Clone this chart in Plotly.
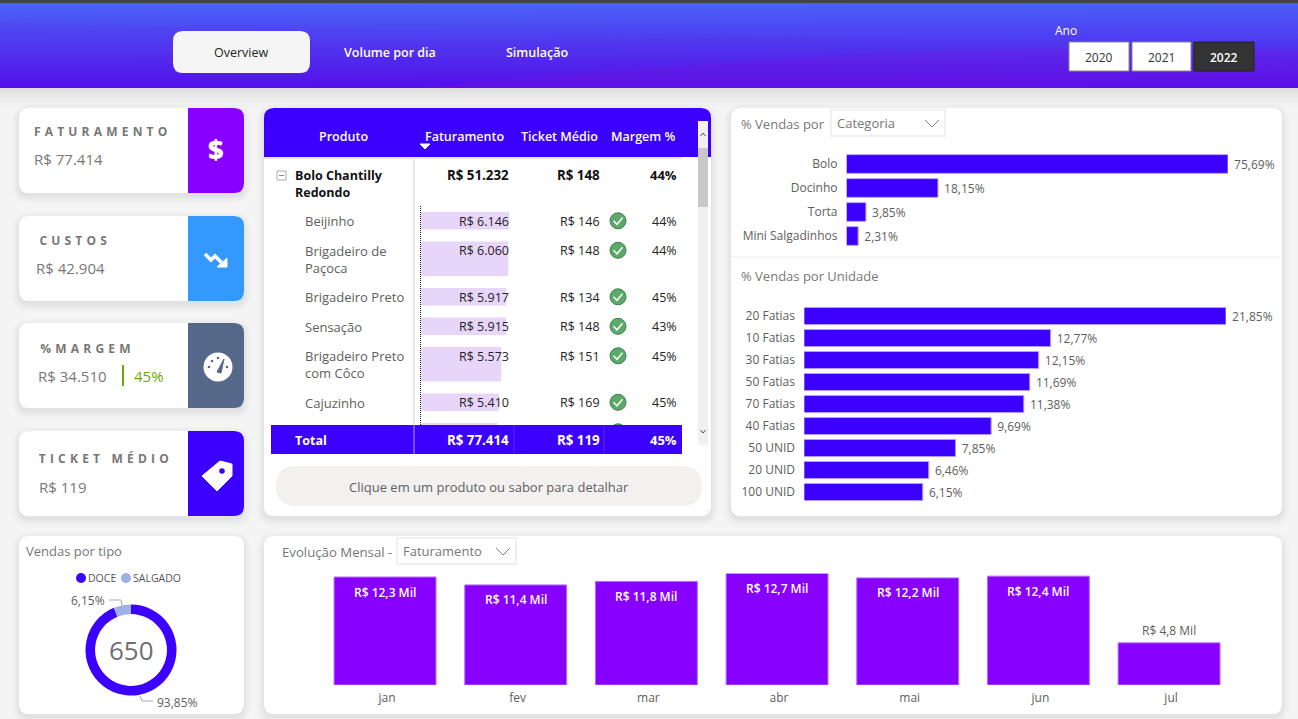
import base64
import plotly.graph_objects as go

W, H = 1298, 719
FONT = "Open Sans"
GREY = "#666666"
BLUE = "#3B00FF"
PURPLE = "#8800FF"

categorias = ["Bolo", "Docinho", "Torta", "Mini Salgadinhos"]
categorias_pct = [75.69, 18.15, 3.85, 2.31]

unidades = ["20 Fatias", "10 Fatias", "30 Fatias", "50 Fatias", "70 Fatias", "40 Fatias", "50 UNID", "20 UNID", "100 UNID"]
unidades_pct = [21.85, 12.77, 12.15, 11.69, 11.38, 9.69, 7.85, 6.46, 6.15]

meses = ["jan", "fev", "mar", "abr", "mai", "jun", "jul"]
meses_fat = [12.3, 11.4, 11.8, 12.7, 12.2, 12.4, 4.8]
meses_txt = ["R$ 12,3 Mil", "R$ 11,4 Mil", "R$ 11,8 Mil", "R$ 12,7 Mil", "R$ 12,2 Mil", "R$ 12,4 Mil", "R$ 4,8 Mil"]

tipos = ["DOCE", "SALGADO"]
tipos_pct = [93.85, 6.15]

sabores = [["Beijinho"], ["Brigadeiro de", "Paçoca"], ["Brigadeiro Preto"], ["Sensação"],
           ["Brigadeiro Preto", "com Côco"], ["Cajuzinho"]]
sabores_fat = [6146, 6060, 5917, 5915, 5573, 5410]
sabores_ticket = [146, 148, 134, 148, 151, 169]
sabores_margem = [44, 44, 45, 43, 45, 45]
proximo_fat = 5310  # row hidden behind the total, only the bar top shows

kpis = [("FATURAMENTO", "R$ 77.414"), ("CUSTOS", "R$ 42.904"), ("%MARGEM", "R$ 34.510"), ("TICKET MÉDIO", "R$ 119")]


def dom_x(a, b):
    return [a / W, b / W]


def dom_y(top, bottom):
    return [1 - bottom / H, 1 - top / H]


shapes = []
notes = []


def rounded(x0, y0, x1, y1, r, fill, corners="tl tr br bl", line=None, layer="below", opacity=1):
    tl, tr, br, bl = [(r if c in corners.split() else 0) for c in ["tl", "tr", "br", "bl"]]
    path = (f"M{x0 + tl},{y0} L{x1 - tr},{y0} Q{x1},{y0} {x1},{y0 + tr} L{x1},{y1 - br} Q{x1},{y1} {x1 - br},{y1} "
            f"L{x0 + bl},{y1} Q{x0},{y1} {x0},{y1 - bl} L{x0},{y0 + tl} Q{x0},{y0} {x0 + tl},{y0} Z")
    shapes.append(dict(type="path", path=path, xref="x", yref="y", fillcolor=fill, opacity=opacity, layer=layer,
                       line=dict(width=1 if line else 0, color=line or fill)))


def rect(x0, y0, x1, y1, fill, line=None, layer="below", width=1):
    shapes.append(dict(type="rect", x0=x0, y0=y0, x1=x1, y1=y1, xref="x", yref="y", fillcolor=fill, layer=layer,
                       line=dict(width=width if line else 0, color=line or fill)))


def polyline(points, color, width=1, layer="below", fill=None):
    path = "M" + " L".join(f"{x},{y}" for x, y in points) + (" Z" if fill else "")
    shapes.append(dict(type="path", path=path, xref="x", yref="y", layer=layer, fillcolor=fill or "rgba(0,0,0,0)",
                       line=dict(width=width, color=color)))


def circle(cx, cy, r, fill, line=None, layer="below", width=1):
    shapes.append(dict(type="circle", x0=cx - r, y0=cy - r, x1=cx + r, y1=cy + r, xref="x", yref="y", fillcolor=fill,
                       layer=layer, line=dict(width=width if line else 0, color=line or fill)))


def label(x, y, text, size=12, color=GREY, anchor="left", weight=400):
    notes.append(dict(x=x, y=y, xref="x", yref="y", text=text, showarrow=False, xanchor=anchor, yanchor="middle",
                      font=dict(family=FONT, size=size, color=color, weight=weight), borderpad=0, borderwidth=0))


def card(x0, y0, x1, y1, r=10):
    for grow, op in [(7, 0.012), (5, 0.016), (3, 0.02), (1, 0.025)]:
        rounded(x0 - grow, y0 - grow + 3, x1 + grow, y1 + grow + 3, r + grow, "#000000", opacity=op)
    rounded(x0, y0, x1, y1, r, "#FFFFFF")


def dropdown(x0, y0, x1, y1, text):
    rect(x0, y0, x1, y1, "#FFFFFF", line="#F0F0F0", width=2)
    label(x0 + 6, (y0 + y1) / 2, text, 13, "#777777")
    polyline([(x1 - 20, y0 + 10), (x1 - 13, y0 + 17), (x1 - 6, y0 + 10)], "#888888")


# Banner
banner_svg = """<svg xmlns='http://www.w3.org/2000/svg' width='1298' height='88' preserveAspectRatio='none'>
<defs><linearGradient id='g' x1='0' y1='0' x2='0.05' y2='1'>
<stop offset='0' stop-color='#4A66F8'/><stop offset='1' stop-color='#5210EA'/></linearGradient></defs>
<rect width='1298' height='88' fill='url(#g)'/>
<path d='M0,22 C300,34 800,28 1298,50 L1298,88 L0,88 Z' fill='#7A18D8' fill-opacity='0.06'/>
<path d='M420,88 C700,60 1000,40 1298,50 L1298,88 Z' fill='#8010D8' fill-opacity='0.22'/>
</svg>"""
banner_src = "data:image/svg+xml;base64," + base64.b64encode(banner_svg.encode()).decode()
for grow, op in [(18, 0.012), (14, 0.014), (10, 0.016), (6, 0.018), (3, 0.022)]:
    rect(0, 88, W, 88 + grow, f"rgba(0,0,0,{op})")
rect(0, 0, W, 3, "#444444", layer="above")
rounded(173, 31, 310, 73, 10, "#F5F5F5", layer="above")
label(241.5, 52, "Overview", 12.5, "#252423", "center", 500)
label(390, 52, "Volume por dia", 12.5, "#FFFFFF", "center", 600)
label(537, 52, "Simulação", 12.5, "#FFFFFF", "center", 600)
label(1055, 30, "Ano", 12, "#FFFFFF")
for x0, x1, ano, fill, txt, edge in [(1069, 1129, "2020", "#FFFFFF", "#333333", "#888888"),
                                     (1132, 1191, "2021", "#FFFFFF", "#333333", "#888888"),
                                     (1194, 1254, "2022", "#333333", "#FFFFFF", "#222222")]:
    rect(x0, 42, x1, 71, fill, line=edge, layer="above")
    label((x0 + x1) / 2, 57.5, ano, 12, txt, "center", 600 if fill == "#333333" else 400)

# KPI cards
TITLE_SPACING = 4.2
kpi_rows = [(108, 193, PURPLE, 34, 34, 131, 159), (216, 301, "#3399FF", 39, 36, 240, 268),
            (323, 408, "#56688A", 40, 38, 348, 376), (431, 516, BLUE, 39, 39, 458, 487)]
for (top, bottom, tone, tx, vx, ty, vy), (titulo, valor) in zip(kpi_rows, kpis):
    card(19, top, 244, bottom)
    rounded(188, top, 244, bottom, 10, tone, corners="tr br")
    # letter spacing grows the text both ways, so push the start back
    label(tx + len(titulo) * TITLE_SPACING / 2, ty, titulo, 12, "#777777", weight=700)
    label(vx, vy, valor, 15, "#777777")
label(216, 148, "$", 27, "#FFFFFF", "center", 800)
polyline([(205, 254), (211, 260), (215, 256), (225, 266)], "#FFFFFF", 3.5)
polyline([(217, 267), (227, 267), (227, 258)], "#FFFFFF", 1, fill="#FFFFFF")
polyline([(123, 365), (123, 386)], "#6AA800", 2)
label(134, 376, "45%", 15, "#6AA800")
circle(218, 367, 14.5, "#FFFFFF")
for cx, cy in [(209, 367), (212, 361), (218, 358), (227, 367)]:
    circle(cx, cy, 1.3, "#56688A")
polyline([(217, 372), (224, 359), (221, 373)], "#56688A", 1, fill="#56688A")
polyline([(202, 476), (220, 461), (232, 464), (232, 476), (217, 491)], "#FFFFFF", 1, fill="#FFFFFF")
circle(222, 471, 2.8, BLUE)

# Donut card
card(19, 536, 244, 714)
label(26, 551, "Vendas por tipo", 13, "#777777", weight=500)
circle(81, 578, 5, BLUE)
label(88, 578, "DOCE", 10.5, "#555555")
circle(126, 578, 5, "#9DB0E8")
label(133, 578, "SALGADO", 10.5, "#555555")
label(131, 650, "650", 26, "#6E6E6E", "center")
label(105, 600, "6,15%", 12, "#605E5C", "right")
polyline([(109, 600), (121, 600), (122, 605)], "#AAAAAA")
label(157, 702, "93,85%", 12, "#605E5C")
polyline([(140, 696), (142, 701), (153, 701)], "#AAAAAA")

# Table card
card(264, 108, 711, 516)
rounded(264, 108, 711, 157, 10, BLUE, corners="tl tr", layer="above")
rect(264, 157, 682, 159, "#E8E8E8")
rect(698, 121, 708, 445, "#F0F0F0", layer="above")
rect(698, 148, 708, 207, "#C8C8C8", layer="above")
polyline([(700.5, 136), (703, 133), (705.5, 136)], "#555555", layer="above")
polyline([(700.5, 430), (703, 433), (705.5, 430)], "#555555", layer="above")
label(343, 136, "Produto", 12.5, "#FFFFFF", "center", 600)
label(464.5, 136, "Faturamento", 12.5, "#FFFFFF", "center", 600)
label(559.5, 136, "Ticket Médio", 12.5, "#FFFFFF", "center", 600)
label(643, 136, "Margem %", 12.5, "#FFFFFF", "center", 600)
polyline([(420, 144), (430, 144), (425, 149)], "#FFFFFF", 1, layer="above", fill="#FFFFFF")

polyline([(414, 159), (414, 425)], "#D0D0D0")
rect(277, 171, 286, 180, "#FFFFFF", line="#AAAAAA")
polyline([(279, 175.5), (284, 175.5)], "#888888")
label(295, 175, "Bolo Chantilly", 12.5, "#111111", weight=700)
label(295, 192, "Redondo", 12.5, "#111111", weight=700)
label(509, 175, "R$ 51.232", 13.3, "#111111", "right", 700)
label(600, 175, "R$ 148", 13.3, "#111111", "right", 700)
label(677, 175, "44%", 13, "#111111", "right", 700)

# row layout from the number of text lines in each row
row_top = 212.0
bar_centers, bar_heights = [], []
for nomes, fat, ticket, margem in zip(sabores, sabores_fat, sabores_ticket, sabores_margem):
    altura = 17.5 if len(nomes) == 1 else 34.5
    bar_centers.append(row_top + altura / 2)
    bar_heights.append(altura)
    for i, nome in enumerate(nomes):
        label(305, row_top + 9.1 + 17 * i, nome, 13, "#605E5C")
    label(509, row_top + 9.1, f"R$ {fat:,}".replace(",", "."), 12.5, "#252423", "right")
    label(600, row_top + 9.1, f"R$ {ticket}", 12.5, "#252423", "right")
    label(677, row_top + 9.1, f"{margem}%", 12.5, "#252423", "right")
    circle(618, row_top + 8.8, 8, "#5BAA6A", line="#3F7F50", layer="above")
    polyline([(613.5, row_top + 8.8), (617, row_top + 12.3), (622.5, row_top + 5.8)], "#FFFFFF", 1.5, layer="above")
    row_top += altura + 12
bar_centers.append(row_top + 8.75)
bar_heights.append(17.5)
circle(618, row_top + 8.8, 8, "#5BAA6A", line="#3F7F50")
shapes.append(dict(type="line", x0=420.5, x1=420.5, y0=206, y1=425, xref="x", yref="y", layer="above",
                   line=dict(color="#222222", width=1, dash="1px,1px")))

rect(271, 425, 682, 454, BLUE, layer="above")
for x, tone in [(414, "#B0A0FF"), (514, "#5A28FF"), (604, "#5A28FF")]:
    polyline([(x, 425), (x, 454)], tone, layer="above")
label(295, 440, "Total", 12.5, "#FFFFFF", weight=700)
label(509, 440, "R$ 77.414", 13.3, "#FFFFFF", "right", 700)
label(600, 440, "R$ 119", 13.3, "#FFFFFF", "right", 700)
label(677, 440, "45%", 13, "#FFFFFF", "right", 700)
rounded(276, 466, 702, 506, 20, "#F2F1F0")
label(489, 487, "Clique em um produto ou sabor para detalhar", 13, "#605E5C", "center")

# Right card
card(731, 108, 1282, 516)
rect(731, 256, 1282, 258, "#F5F5F5")
label(741, 124, "% Vendas por", 13, "#777777")
dropdown(831, 110, 945, 136, "Categoria")
label(741, 276, "% Vendas por Unidade", 13, "#777777", weight=500)

# Monthly card
card(264, 536, 1282, 714)
label(282, 552, "Evolução Mensal -", 13.2, "#777777")
dropdown(397, 538, 516, 564, "Faturamento")

# month labels sit a bit lower in the bar than the library's inside position
for mes, valor, txt in zip(meses, meses_fat, meses_txt):
    inside = valor > 6
    notes.append(dict(x=mes, y=valor, xref="x5", yref="y5", text=txt, showarrow=False, yanchor="middle",
                      yshift=-15 if inside else 12,
                      font=dict(family=FONT, size=12, color="#FFFFFF" if inside else "#605E5C", weight=600 if inside else 400)))

fig = go.Figure()

fig.add_trace(go.Bar(x=sabores_fat + [proximo_fat], y=bar_centers, width=bar_heights, orientation="h",
                     marker=dict(color="#E8D6FA", line_width=0), xaxis="x2", yaxis="y2", hoverinfo="skip"))

fig.add_trace(go.Bar(x=categorias_pct, y=categorias, orientation="h", marker=dict(color=BLUE, line=dict(color="#B8A0FF", width=1)),
                     texttemplate="\u00a0%{x:.2f}%", textposition="outside", cliponaxis=False,
                     textfont=dict(family=FONT, size=12, color="#605E5C"), xaxis="x3", yaxis="y3"))

fig.add_trace(go.Bar(x=unidades_pct, y=unidades, orientation="h", marker=dict(color=BLUE, line=dict(color="#B8A0FF", width=1)),
                     texttemplate="\u00a0%{x:.2f}%", textposition="outside", cliponaxis=False,
                     textfont=dict(family=FONT, size=12, color="#605E5C"), xaxis="x4", yaxis="y4"))

fig.add_trace(go.Bar(x=meses, y=meses_fat, marker=dict(color=PURPLE, line=dict(color="#B070FF", width=1)),
                     xaxis="x5", yaxis="y5"))

fig.add_trace(go.Pie(labels=tipos, values=tipos_pct, hole=0.79, sort=False, direction="clockwise", rotation=0,
                     marker=dict(colors=[BLUE, "#9DB0E8"], line_width=0), textinfo="none",
                     domain=dict(x=dom_x(85.5, 176.5), y=dom_y(604.5, 695.5))))

hidden = dict(visible=False, fixedrange=True)
tick_font = dict(family=FONT, size=12, color="#605E5C")

fig.update_layout(
    width=W,
    height=H,
    margin=dict(l=0, r=0, t=0, b=0),
    paper_bgcolor="#F4F4F4",
    plot_bgcolor="rgba(0,0,0,0)",
    showlegend=False,
    separators=",.",
    bargap=0.22,
    font=dict(family=FONT),
    shapes=shapes,
    annotations=notes,
    images=[dict(source=banner_src, xref="x", yref="y", x=0, y=0, sizex=W, sizey=88, sizing="stretch", layer="below")],
    xaxis=dict(domain=[0, 1], range=[0, W], **hidden),
    yaxis=dict(domain=[0, 1], range=[H, 0], **hidden),
    xaxis2=dict(domain=dom_x(421, 509.5), range=[0, 6146], anchor="y2", **hidden),
    yaxis2=dict(domain=dom_y(159, 454), range=[454, 159], anchor="x2", **hidden),
    xaxis3=dict(domain=dom_x(846.5, 1228), range=[0, 75.69], anchor="y3", **hidden),
    yaxis3=dict(domain=dom_y(152, 248), autorange="reversed", anchor="x3", showline=False, ticks="", showgrid=False,
                tickfont=tick_font, fixedrange=True, ticklabelstandoff=8),
    xaxis4=dict(domain=dom_x(804, 1226), range=[0, 21.85], anchor="y4", **hidden),
    yaxis4=dict(domain=dom_y(305, 503), autorange="reversed", anchor="x4", showline=False, ticks="", showgrid=False,
                tickfont=tick_font, fixedrange=True, ticklabelstandoff=8),
    xaxis5=dict(domain=dom_x(319.7, 1234.4), anchor="y5", showline=False, ticks="", showgrid=False,
                tickfont=dict(family=FONT, size=12, color="#605E5C", weight=500),
                fixedrange=True, ticklabelstandoff=4, ticklabelshift=2),
    yaxis5=dict(domain=dom_y(573.5, 685), range=[0, 12.7], anchor="x5", **hidden),
)

# body margin off, and the spaced out KPI titles the library has no attribute for
post = """
document.body.style.margin = '0';
document.body.style.overflow = 'hidden';
var titles = ['FATURAMENTO', 'CUSTOS', '%MARGEM', 'TICKET MÉDIO'];
document.querySelectorAll('.annotation-text').forEach(function (t) {
    if (titles.indexOf(t.textContent) >= 0) { t.style.letterSpacing = 'SPACINGpx'; }
});
""".replace("SPACING", str(TITLE_SPACING))
fig.write_html("out.html", post_script=post, config=dict(displayModeBar=False))
